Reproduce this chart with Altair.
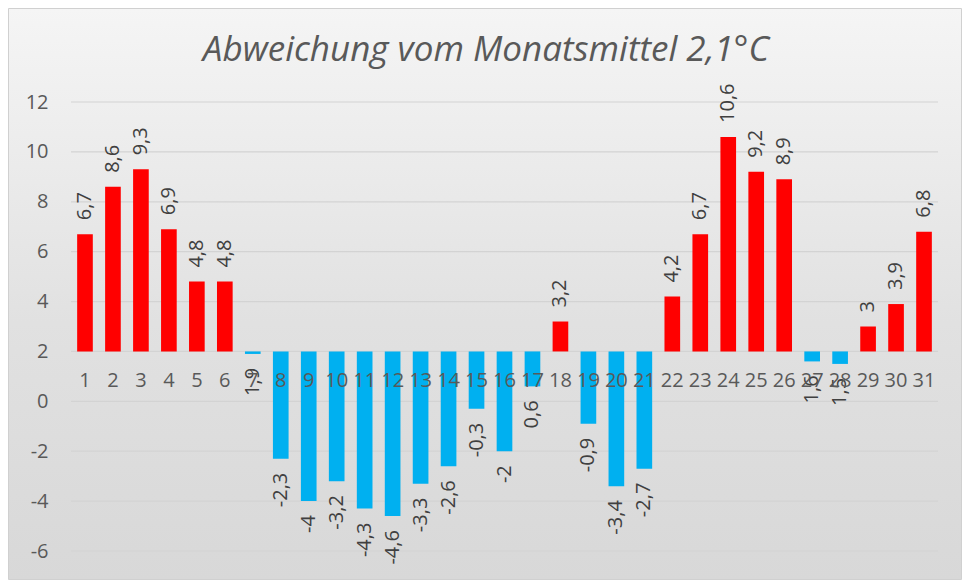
import altair as alt
import pandas as pd

days = list(range(1, 32))
values = [6.7, 8.6, 9.3, 6.9, 4.8, 4.8, 1.9, -2.3, -4.0, -3.2, -4.3, -4.6, -3.3, -2.6, -0.3,
          -2.0, 0.6, 3.2, -0.9, -3.4, -2.7, 4.2, 6.7, 10.6, 9.2, 8.9, 1.6, 1.5, 3.0, 3.9, 6.8]
labels = [("%g" % v).replace(".", ",") for v in values]
y_ticks = [-6, -4, -2, 0, 2, 4, 6, 8, 10, 12]
baseline = 2
title_text = "Abweichung vom Monatsmittel 2,1°C"

W, H = 867, 449
PAD = {"left": 63, "top": 94, "right": 24, "bottom": 29}

df = pd.DataFrame({"day": [str(d) for d in days], "v": values, "lab": labels})
grid_df = pd.DataFrame({"t": y_ticks})

xs = alt.X("day:N", sort=[str(d) for d in days],
           scale=alt.Scale(paddingInner=0.44, paddingOuter=0.22), axis=None)
yscale = alt.Scale(domain=[-6, 12], nice=False, zero=False)

bg = alt.Chart(pd.DataFrame({"a": [0]})).mark_rect(
    color=alt.LinearGradient(
        gradient="linear",
        stops=[alt.GradientStop(offset=0, color="#f5f5f5"),
               alt.GradientStop(offset=0.55, color="#e1e1e1"),
               alt.GradientStop(offset=1, color="#d8d8d8")],
        x1=0, x2=0, y1=0, y2=1),
    stroke="#d0d0d0", strokeWidth=1
).encode(x=alt.value(-62.5), x2=alt.value(W + PAD["right"] - 0.5),
         y=alt.value(-93.5), y2=alt.value(H + PAD["bottom"] - 0.5))

title = alt.Chart(pd.DataFrame({"t": [title_text]})).mark_text(
    fontSize=35, font="Open Sans", fontStyle="italic", fontWeight=400, color="#595959",
    align="center", baseline="alphabetic"
).encode(x=alt.value(415), y=alt.value(-41), text="t:N")

grid = alt.Chart(grid_df).mark_rule(color="#d3d3d3", strokeWidth=1.2).encode(
    y=alt.Y("t:Q", scale=yscale,
            axis=alt.Axis(values=y_ticks, grid=False, domain=False, ticks=False,
                          labelPadding=23, labelFontSize=20, labelColor="#595959",
                          labelFont="Open Sans", title=None, zindex=1,
                          labelExpr="'' + datum.value")),
    x=alt.value(0), x2=alt.value(W))

bars = alt.Chart(df).mark_bar().encode(
    x=xs,
    y=alt.Y("v:Q", scale=yscale),
    y2=alt.datum(baseline),
    color=alt.when(alt.datum.v > baseline).then(alt.value("#FF0000")).otherwise(alt.value("#00B0F0")),
)

lab_common = dict(angle=270, baseline="middle", fontSize=20, font="Open Sans", color="#404040")
pos_labels = alt.Chart(df).transform_filter(alt.datum.v > baseline).mark_text(
    align="left", dx=14, **lab_common).encode(x=xs, y=alt.Y("v:Q", scale=yscale), text="lab:N")
neg_labels = alt.Chart(df).transform_filter(alt.datum.v <= baseline).mark_text(
    align="right", dx=-14, **lab_common).encode(x=xs, y=alt.Y("v:Q", scale=yscale), text="lab:N")

xlabels = alt.Chart(df).mark_text(
    baseline="middle", dy=30, fontSize=20, font="Open Sans", color="#595959"
).encode(x=xs, y=alt.datum(baseline), text="day:N")

chart = alt.layer(bg, title, grid, bars, pos_labels, neg_labels, xlabels).properties(
    width=W, height=H, padding=PAD,
    autosize=alt.AutoSizeParams(type="none"),
).configure_view(strokeWidth=0)

chart.save("out.html", embed_options={"renderer": "svg", "actions": False})
